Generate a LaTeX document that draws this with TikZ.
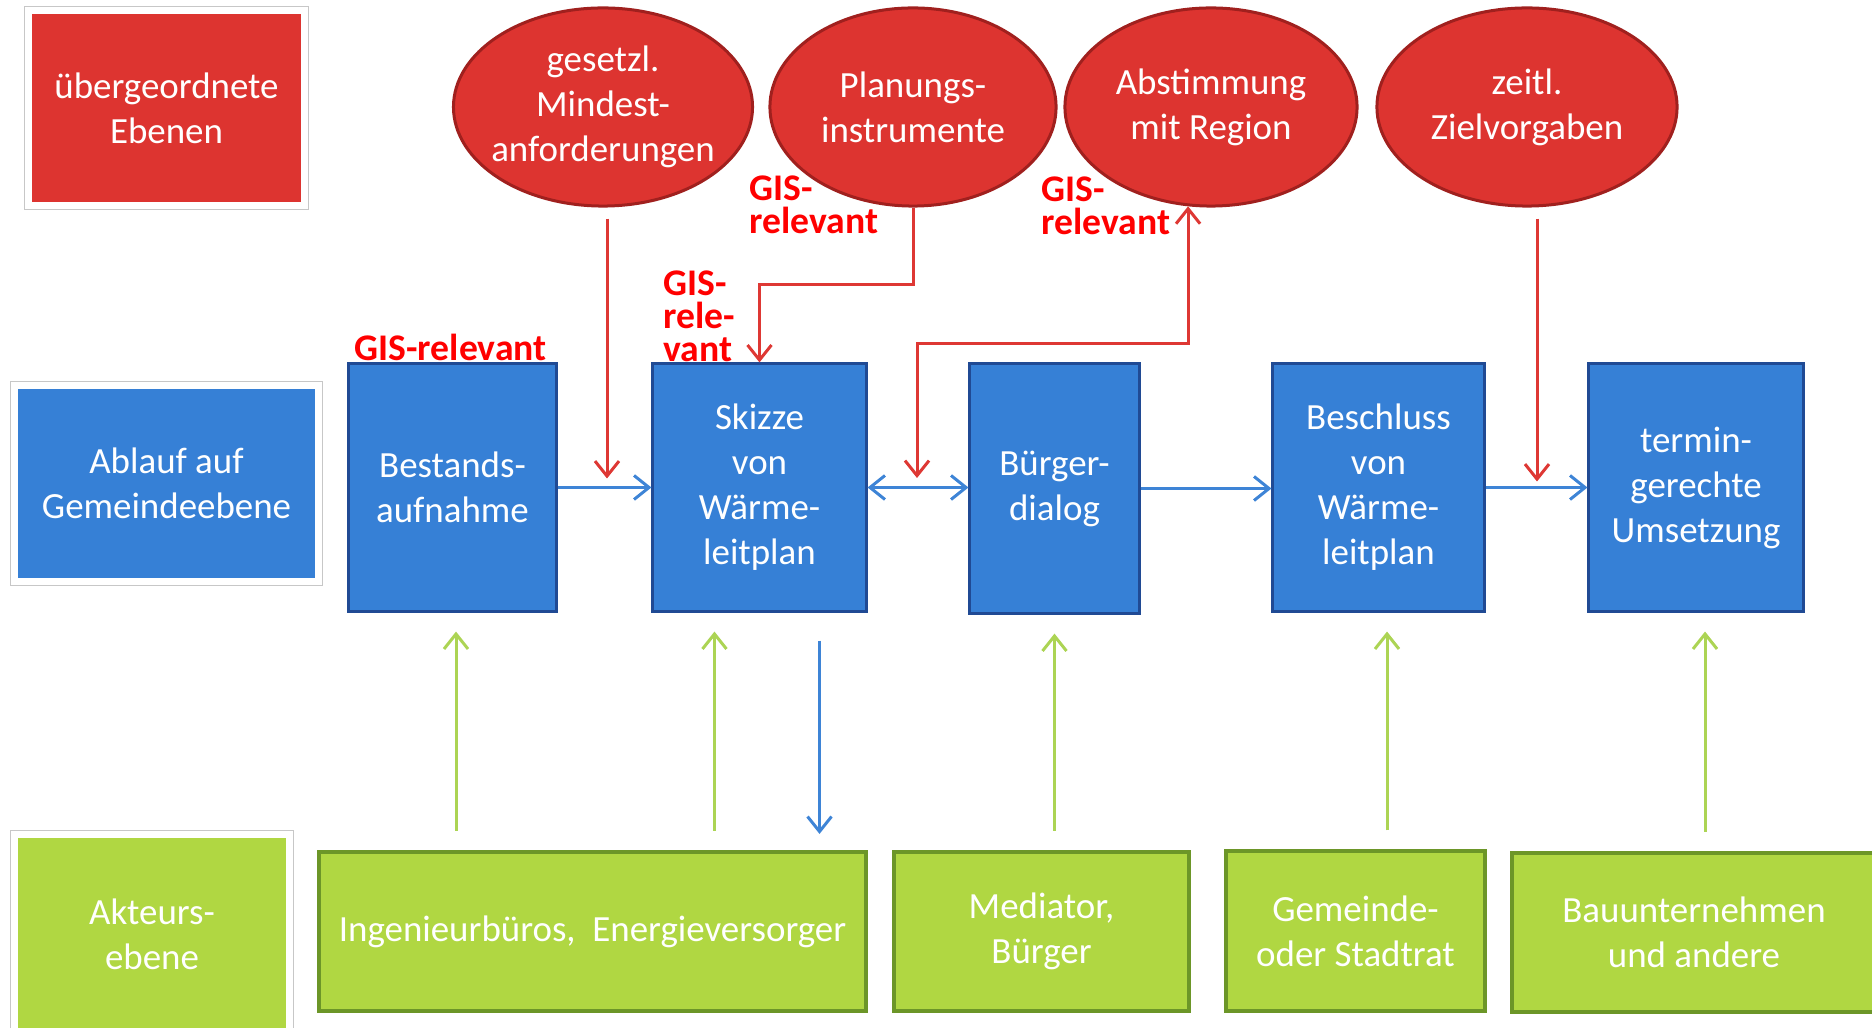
\documentclass[tikz,border=0pt]{standalone}
\usepackage{fontspec}
\setmainfont{Carlito}
\usepackage{tikz}
\usetikzlibrary{calc,positioning,shapes.geometric,arrows.meta,shadows}
\usepackage{xcolor}

\definecolor{ebenerot}{RGB}{221,52,48}
\definecolor{randrot}{RGB}{160,32,30}
\definecolor{pfeilrot}{RGB}{222,56,52}
\definecolor{gisrot}{RGB}{255,0,0}
\definecolor{ablaufblau}{RGB}{54,128,214}
\definecolor{randblau}{RGB}{32,74,148}
\definecolor{pfeilblau}{RGB}{62,132,214}
\definecolor{akteurgruen}{RGB}{176,215,66}
\definecolor{randgruen}{RGB}{108,150,40}
\definecolor{pfeilgruen}{RGB}{172,212,84}

\tikzset{
  txt/.style={text=white, align=center, font=\fontsize{10.5}{12.8}\selectfont, inner sep=0pt},
  ebene/.style={txt, draw=white, line width=0.07cm,
    preaction={draw=black!22, line width=0.09cm},
    drop shadow={shadow xshift=0.025cm, shadow yshift=-0.03cm, opacity=0.35, fill=black!40}},
  schritt/.style={txt, fill=ablaufblau, draw=randblau, line width=0.03cm, minimum height=2.47cm},
  akteur/.style={txt, fill=akteurgruen, draw=randgruen, line width=0.04cm, minimum height=1.59cm},
  ziel/.style={txt, ellipse, fill=ebenerot, draw=randrot, line width=0.03cm, minimum height=1.98cm},
  gis/.style={text=gisrot, font=\fontsize{10.7}{9.4}\selectfont\bfseries, align=left, inner sep=0pt},
  pfeil/.style={line width=0.03cm},
  blaupfeil/.style={pfeil, pfeilblau},
  rotpfeil/.style={pfeil, pfeilrot},
  gruenpfeil/.style={pfeil, pfeilgruen},
}

\begin{document}
\begin{tikzpicture}[x=0.01cm, y=-0.01cm, >={Straight Barb[length=0.15cm,width=0.24cm]}]
\useasboundingbox (0,0) rectangle (1872,1028);

% Ebenen links
\node[ebene, fill=ebenerot, minimum width=2.76cm, minimum height=1.95cm] (uebergeordnet) at (166.5,108) {übergeordnete\\Ebenen};
\node[ebene, fill=ablaufblau, minimum width=3.03cm, minimum height=1.96cm] (ablauf) at (166.5,483.5) {Ablauf auf\\Gemeindeebene};
\node[ebene, fill=akteurgruen, minimum width=2.75cm, minimum height=1.99cm] (akteure) at (152,934) {Akteurs-\\ebene};

% Vorgaben oben
\node[ziel, inner xsep=-0.06cm, minimum width=2.94cm] (gesetz) at (603,107) {gesetzl.\\Mindest-\\anforderungen};
\node[ziel, minimum width=2.86cm] (planung) at (913,107) {Planungs-\\instrumente};
\node[ziel, minimum width=2.92cm] (abstimm) at (1211,107) {Abstimmung\\mit Region};
\node[ziel, minimum width=3.00cm] (zeitl) at (1527,107) {zeitl.\\Zielvorgaben};

% Ablauf
\node[schritt, minimum width=2.07cm] (bestand) at (452.5,487.5) {Bestands-\\aufnahme};
\node[schritt, minimum width=2.13cm] (skizze) at (759.5,487.5) {Skizze\\von\\Wärme-\\leitplan};
\node[schritt, minimum width=1.69cm, minimum height=2.49cm] (buerger) at (1054.5,488.5) {Bürger-\\dialog};
\node[schritt, minimum width=2.11cm] (beschluss) at (1378.5,487.5) {Beschluss\\von\\Wärme-\\leitplan};
\node[schritt, minimum width=2.14cm] (termin) at (1696,487.5) {termin-\\gerechte\\Umsetzung};

% Akteure
\node[akteur, minimum width=5.47cm] (ingen) at (592.5,931.5) {Ingenieurbüros,\ \ Energieversorger};
\node[akteur, minimum width=2.95cm] (mediator) at (1041.5,931.5) {Mediator,\\Bürger};
\node[akteur, minimum width=2.59cm] (gemeinde) at (1355.5,931) {Gemeinde-\\oder Stadtrat};
\node[akteur, minimum width=3.64cm] (bau) at (1694,932.5) {Bauunternehmen\\und andere};

% GIS-Hinweise
\node[gis, anchor=west] (gis1) at (354,347) {GIS-relevant};
\node[gis, anchor=west] (gis2) at (749,205) {GIS-\\relevant};
\node[gis, anchor=west] (gis3) at (663,316) {GIS-\\rele-\\vant};
\node[gis, anchor=west] (gis4) at (1041,206) {GIS-\\relevant};

% Pfeile im Ablauf
\draw[blaupfeil, ->] (bestand.east) -- (bestand.east -| skizze.west);
\draw[blaupfeil, <->] (skizze.east) -- (skizze.east -| buerger.west);
\draw[blaupfeil, ->] (buerger.east) -- (buerger.east -| beschluss.west);
\draw[blaupfeil, ->] (beschluss.east) -- (termin.west);

% Pfeile von oben
\draw[rotpfeil, ->] ([xshift=0.04cm,yshift=-0.11cm]gesetz.south) -- ([xshift=0.04cm,yshift=0.09cm]gesetz.south |- skizze.west);
\draw[rotpfeil, ->] (planung.south) -- ++(0,77) -| (skizze.north);
\coordinate (dialog) at (917,478);
\draw[rotpfeil, <->] (dialog) -- ++(0,-134) -| (abstimm.-103);
\draw[rotpfeil, ->] ([xshift=0.1cm,yshift=-0.11cm]zeitl.south) -- ([xshift=0.1cm,yshift=0.06cm]zeitl.south |- termin.west);

% Pfeile von unten
\foreach \s/\a/\dx in {bestand/ingen/0.035, skizze/ingen/-0.45, buerger/mediator/0, beschluss/gemeinde/0.085, termin/bau/0.09} {
  \draw[gruenpfeil, ->] ([xshift=\dx cm,yshift=0.19cm]\s.south |- \a.north) -- ([xshift=\dx cm,yshift=-0.19cm]\s.south);
}
\draw[blaupfeil, ->] ([xshift=0.6cm,yshift=-0.28cm]skizze.south) -- ([xshift=0.6cm,yshift=0.16cm]skizze.south |- ingen.north);
\end{tikzpicture}
\end{document}
